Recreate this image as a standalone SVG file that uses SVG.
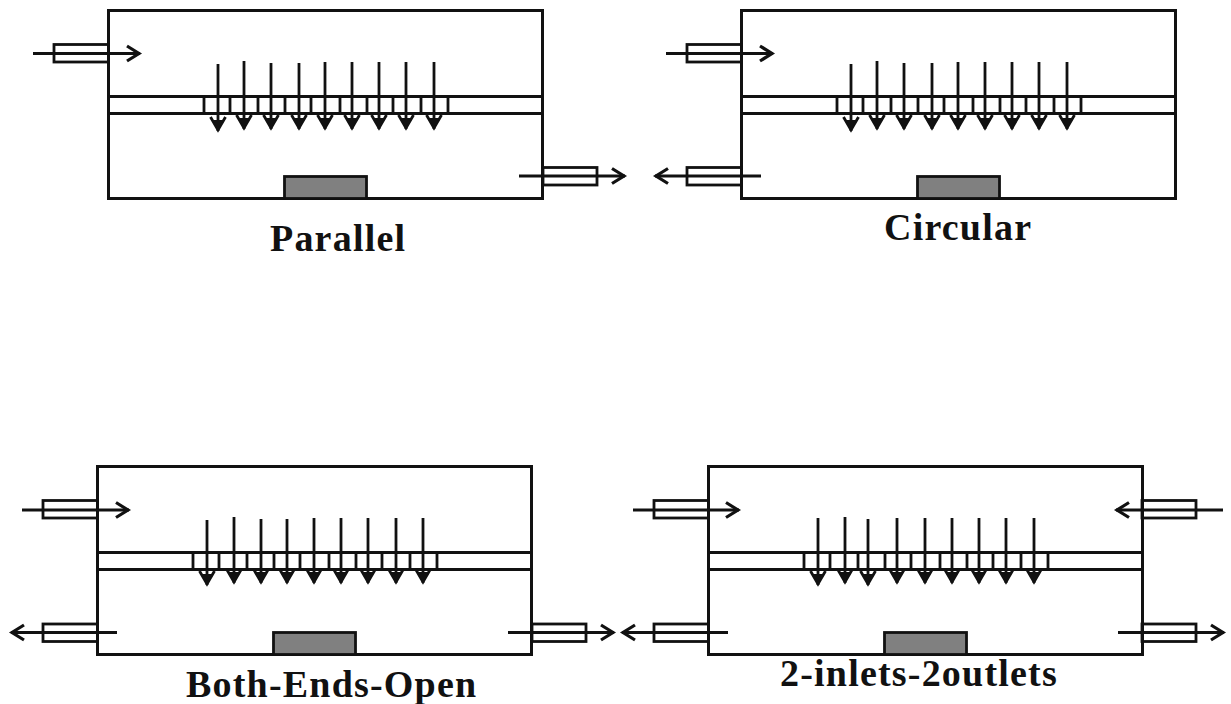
<svg xmlns="http://www.w3.org/2000/svg" width="1231" height="704" viewBox="0 0 1231 704">
<style>
.s{fill:none;stroke:#111;stroke-width:3}
.t{fill:none;stroke:#111;stroke-width:2.800}
.h{fill:#808080;stroke:#111;stroke-width:2.800}
.c{fill:none;stroke:#111;stroke-width:2.800}
.a{fill:none;stroke:#111;stroke-width:2.800;marker-end:url(#big)}
.d{fill:none;stroke:#111;stroke-width:2.800;marker-end:url(#small)}
text{font-family:"Liberation Serif","Times New Roman",serif;font-weight:bold;font-size:38px;fill:#111;letter-spacing:1.200px}
</style>
<defs>
<marker id="big" markerUnits="userSpaceOnUse" markerWidth="20" markerHeight="20" refX="15" refY="10" orient="auto"><path d="M2 2.500L14 10L2 17.500" fill="none" stroke="#111" stroke-width="3.200"/></marker>
<marker id="small" markerUnits="userSpaceOnUse" markerWidth="20" markerHeight="20" refX="15" refY="10" orient="auto"><path d="M1 2.500L14 10L1 17.500" fill="none" stroke="#111" stroke-width="2.800"/><path d="M4 5L15.500 10L4 15Z" fill="#111"/></marker>
<g id="chamber">
<rect class="s" x="108.500" y="10.500" width="434" height="188"/>
<path class="s" d="M108.500 96.500H542.500M108.500 113.500H542.500"/>
<path class="c" d="M204 96.500V113.500M230 96.500V113.500M258 96.500V113.500M285 96.500V113.500M311 96.500V113.500M340 96.500V113.500M367 96.500V113.500M393 96.500V113.500M421 96.500V113.500M448 96.500V113.500"/>
<rect class="h" x="284.500" y="176.500" width="82" height="22"/>
</g>
</defs>
<g id="parallel">
<use href="#chamber"/>
<rect class="t" x="54" y="44.500" width="54.500" height="17.500"/>
<rect class="t" x="543" y="167.500" width="54" height="17.500"/>
<text x="270" y="251">Parallel</text>
</g>
<g id="circular">
<use href="#chamber" x="633"/>
<rect class="t" x="687" y="44.500" width="54.500" height="17.500"/>
<rect class="t" x="687" y="167.500" width="54.500" height="17.500"/>
<text x="884" y="240">Circular</text>
</g>
<g id="both-ends-open">
<use href="#chamber" x="-11" y="456"/>
<rect class="t" x="43" y="500.500" width="54.500" height="17.500"/>
<rect class="t" x="43" y="624" width="54.500" height="17.500"/>
<rect class="t" x="532" y="624" width="54" height="17.500"/>
<text x="186" y="697">Both-Ends-Open</text>
</g>
<g id="two-inlets-two-outlets">
<use href="#chamber" x="600" y="456"/>
<rect class="t" x="654" y="500.500" width="54.500" height="17.500"/>
<rect class="t" x="654" y="624" width="54.500" height="17.500"/>
<rect class="t" x="1142" y="500.500" width="54" height="17.500"/>
<rect class="t" x="1142" y="624" width="54" height="17.500"/>
<text x="780" y="686">2-inlets-2outlets</text>
</g>
<g id="connectors">
<path class="a" d="M33 53.500H140"/>
<path class="a" d="M519 176H625"/>
<path class="a" d="M666 53.500H773"/>
<path class="a" d="M761 176H655"/>
<path class="a" d="M22 510H129"/>
<path class="a" d="M117 632.500H11"/>
<path class="a" d="M508 632.500H614"/>
<path class="a" d="M633 510H739"/>
<path class="a" d="M728 632.500H622"/>
<path class="a" d="M1223 510H1116"/>
<path class="a" d="M1118 632.500H1224"/>
<path class="d" d="M218 64V131"/><path class="d" d="M244 61V129"/><path class="d" d="M271 63V129"/><path class="d" d="M299 63V129"/><path class="d" d="M325 62V129"/><path class="d" d="M352 62V129"/><path class="d" d="M379 62V129"/><path class="d" d="M406 62V129"/><path class="d" d="M434 62V129"/>
<path class="d" d="M851 64V131"/><path class="d" d="M877 61V129"/><path class="d" d="M904 63V129"/><path class="d" d="M932 63V129"/><path class="d" d="M958 62V129"/><path class="d" d="M985 62V129"/><path class="d" d="M1012 62V129"/><path class="d" d="M1039 62V129"/><path class="d" d="M1067 62V129"/>
<path class="d" d="M207 520V585"/><path class="d" d="M234 517V583"/><path class="d" d="M261 519V583"/><path class="d" d="M287 519V583"/><path class="d" d="M314 518V583"/><path class="d" d="M341 518V583"/><path class="d" d="M368 518V583"/><path class="d" d="M396 518V583"/><path class="d" d="M423 518V583"/>
<path class="d" d="M818 518V585"/><path class="d" d="M845 517V583"/><path class="d" d="M868 519V585"/><path class="d" d="M897 518V583"/><path class="d" d="M925 518V583"/><path class="d" d="M952 518V583"/><path class="d" d="M979 518V583"/><path class="d" d="M1006 518V583"/><path class="d" d="M1034 518V583"/>
</g>
</svg>
